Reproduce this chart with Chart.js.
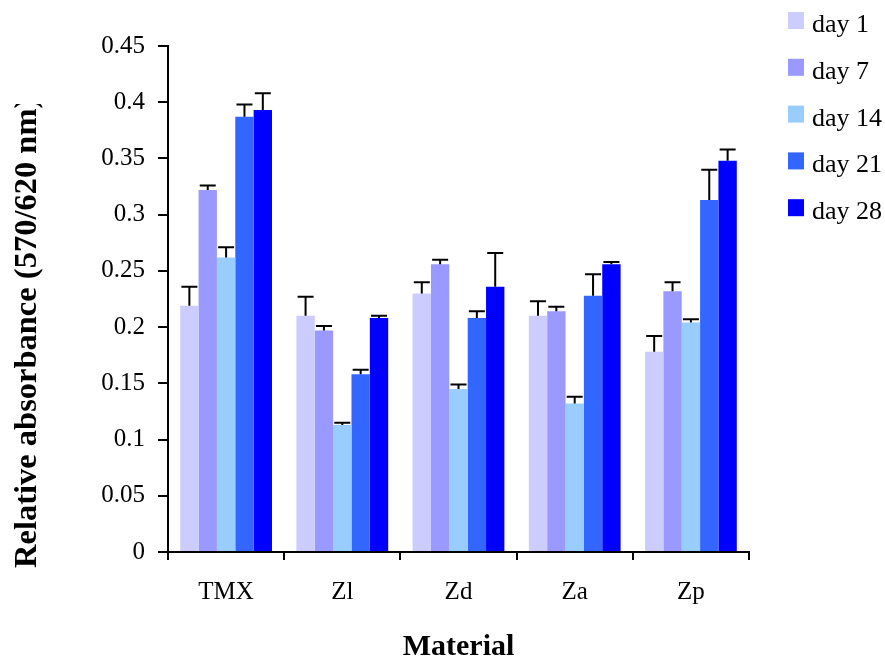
<!DOCTYPE html>
<html>
<head>
<meta charset="utf-8">
<title>Relative absorbance by material</title>
<script src="https://cdn.jsdelivr.net/npm/chart.js@4.4.1/dist/chart.umd.min.js"></script>
<style>
  html, body { margin: 0; padding: 0; background: #fff; }
  #wrap { width: 885px; height: 656px; position: relative; }
</style>
</head>
<body>
<div id="wrap"><canvas id="chart"></canvas></div>
<script>
"use strict";

const SERIF = '"Liberation Serif", "Times New Roman", serif';

const MATERIALS = ["TMX", "Zl", "Zd", "Za", "Zp"];
const DAYS = ["day 1", "day 7", "day 14", "day 21", "day 28"];
const DAY_COLORS = ["#ccccff", "#9999ff", "#99ccff", "#3366ff", "#0000ff"];

// mean relative absorbance, one value per material
const DAY1  = [0.219, 0.210, 0.230, 0.210, 0.178];
const DAY7  = [0.322, 0.197, 0.256, 0.214, 0.232];
const DAY14 = [0.262, 0.113, 0.145, 0.132, 0.204];
const DAY21 = [0.387, 0.158, 0.208, 0.228, 0.313];
const DAY28 = [0.393, 0.208, 0.236, 0.256, 0.348];

// error (drawn upward only, Excel "plus" style)
const ERR1  = [0.017, 0.017, 0.010, 0.013, 0.014];
const ERR7  = [0.004, 0.004, 0.004, 0.004, 0.008];
const ERR14 = [0.009, 0.002, 0.004, 0.006, 0.003];
const ERR21 = [0.011, 0.004, 0.006, 0.019, 0.027];
const ERR28 = [0.015, 0.002, 0.030, 0.002, 0.010];

const Y_MIN = 0;
const Y_MAX = 0.45;
const Y_STEP = 0.05;

const SERIES = [DAY1, DAY7, DAY14, DAY21, DAY28];
const ERRORS = [ERR1, ERR7, ERR14, ERR21, ERR28];

// ----- plugins -------------------------------------------------------------- //
const errorBars = {
  id: "errorBars",
  afterDatasetsDraw(chart) {
    const { ctx, scales: { y } } = chart;
    ctx.save();
    ctx.strokeStyle = "#000";
    ctx.lineWidth = 2;
    chart.data.datasets.forEach((ds, i) => {
      const meta = chart.getDatasetMeta(i);
      meta.data.forEach((bar, j) => {
        const err = ds.errors[j];
        const yTop = y.getPixelForValue(ds.data[j] + err);
        const yBase = y.getPixelForValue(ds.data[j]);
        ctx.beginPath();
        ctx.moveTo(bar.x, yBase);
        ctx.lineTo(bar.x, yTop);
        ctx.moveTo(bar.x - 8, yTop);
        ctx.lineTo(bar.x + 8, yTop);
        ctx.stroke();
      });
    });
    ctx.restore();
  },
};

// y title sits lower than the axis centre and is cut off at the top, as in the source
const yTitle = {
  id: "yTitle",
  afterDraw(chart) {
    const ctx = chart.ctx;
    ctx.save();
    ctx.beginPath();
    ctx.rect(0, 104, 80, 500);
    ctx.clip();
    ctx.translate(36, 568);
    ctx.rotate(-Math.PI / 2);
    ctx.font = `bold 32.5px ${SERIF}`;
    ctx.fillStyle = "#000";
    ctx.textAlign = "left";
    ctx.textBaseline = "alphabetic";
    ctx.fillText("Relative absorbance (570/620 nm)", 0, 0);
    ctx.restore();
  },
};

const sideLegend = {
  id: "sideLegend",
  afterDraw(chart) {
    const ctx = chart.ctx;
    ctx.save();
    ctx.font = `26px ${SERIF}`;
    ctx.textBaseline = "alphabetic";
    chart.data.datasets.forEach((ds, i) => {
      const top = 12 + i * 46.8;
      ctx.fillStyle = ds.backgroundColor;
      ctx.fillRect(788, top, 16, 17);
      ctx.fillStyle = "#000";
      ctx.fillText(ds.label, 812, top + 20);
    });
    ctx.restore();
  },
};

// ----- chart ---------------------------------------------------------------- //
new Chart(document.getElementById("chart"), {
  type: "bar",
  data: {
    labels: MATERIALS,
    datasets: DAYS.map((d, i) => ({
      label: d,
      data: SERIES[i],
      errors: ERRORS[i],
      backgroundColor: DAY_COLORS[i],
      borderWidth: 0,
      categoryPercentage: 0.79,
      barPercentage: 1.0,
    })),
  },
  options: {
    responsive: true,
    maintainAspectRatio: false,
    animation: false,
    layout: { padding: { left: 0, top: 46, right: 136, bottom: 0 } },
    plugins: {
      legend: { display: false },
      tooltip: { enabled: false },
    },
    scales: {
      x: {
        afterFit: s => { s.height = 104; },
        grid: { display: true, drawOnChartArea: false, color: "#000", tickLength: 8, lineWidth: 2 },
        border: { display: true, color: "#000", width: 2 },
        ticks: { color: "#000", padding: 17, font: { family: SERIF, size: 25 } },
        title: {
          display: true, text: "Material", color: "#000",
          font: { family: SERIF, size: 30, weight: "bold" },
          padding: { top: 0, bottom: -9 },
        },
      },
      y: {
        min: Y_MIN,
        max: Y_MAX,
        afterFit: s => { s.width = 168; },
        grid: { display: true, drawOnChartArea: false, color: "#000", tickLength: 10, lineWidth: 2 },
        border: { display: true, color: "#000", width: 2 },
        ticks: {
          stepSize: Y_STEP,
          color: "#000",
          padding: 13,
          font: { family: SERIF, size: 25 },
          callback: v => String(+v.toFixed(2)),
        },
      },
    },
  },
  plugins: [errorBars, yTitle, sideLegend],
});
</script>
</body>
</html>
